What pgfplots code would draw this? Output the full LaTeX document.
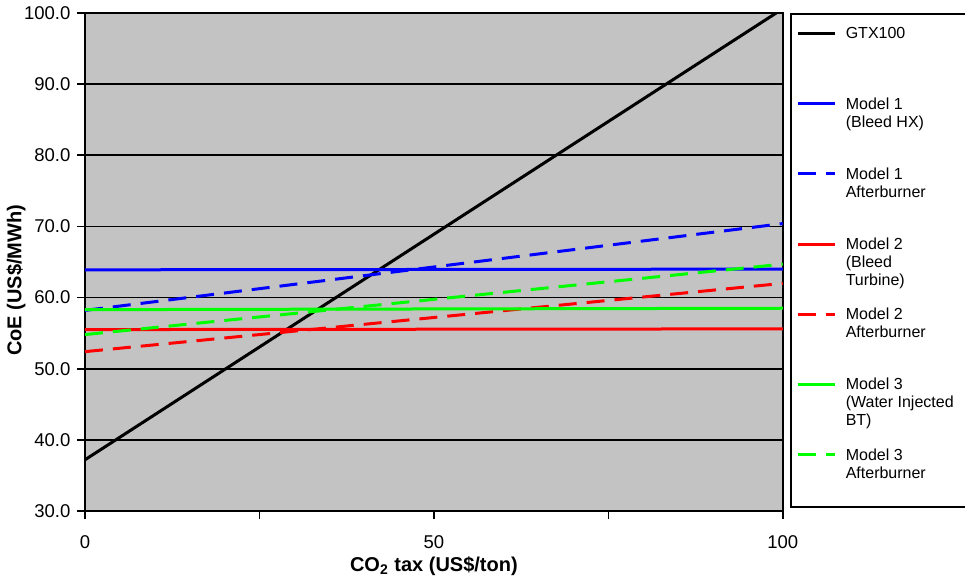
\documentclass[border=0pt]{standalone}
\usepackage{pgfplots}
\pgfplotsset{compat=1.18}
\usepackage{fontspec}
\setmainfont{Liberation Sans}
\definecolor{bg}{RGB}{195,195,195}
\definecolor{mblue}{RGB}{0,0,255}
\definecolor{mred}{RGB}{255,0,0}
\definecolor{mgreen}{RGB}{0,255,0}
\newcommand{\lent}[1]{\parbox[t]{56pt}{#1}}
\begin{document}
\begin{tikzpicture}
\begin{axis}[
  at={(0,0)}, anchor=south west,
  scale only axis, width=348.9pt, height=249pt,
  xmin=0, xmax=100, ymin=30, ymax=100,
  axis background/.style={fill=bg},
  axis line style={black, line width=0.8pt},
  xtick={0,25,50,75,100}, xticklabels={0,,50,,100},
  ytick={30,40,...,100},
  /pgf/number format/assume math mode=true,
  yticklabel style={/pgf/number format/fixed, /pgf/number format/fixed zerofill, /pgf/number format/precision=1},
  tick align=outside, xtick pos=bottom, ytick pos=left,
  major tick length=3.75pt,
  xticklabel shift=5pt,
  tick style={black, line width=0.8pt},
  ymajorgrids, major grid style={black, line width=0.8pt},
  tick label style={font=\fontsize{9.25}{10}\selectfont},
  label style={font=\bfseries\fontsize{10}{11}\selectfont},
  xlabel={CO\textsubscript{2} tax (US\$/ton)},
  xlabel style={at={(axis description cs:0.5,-0.1217)}, anchor=base},
  ylabel={CoE (US\$/MWh)},
  ylabel style={at={(axis description cs:-0.0989,0.463)}, anchor=center},
  legend image code/.code={\draw[#1] (0pt,2.7pt) -- (18.5pt,2.7pt);},
  legend style={at={(1.0103,1)}, anchor=north west, draw=black, line width=0.8pt,
    font=\fontsize{8}{9}\selectfont,
    inner xsep=2.85pt, inner ysep=5.5pt, row sep=10.25pt, column sep=3.65pt,
    cells={anchor=base west},
    nodes={inner sep=1pt, text height=6pt, text depth=16.85pt}},
]
\addplot[black, line width=1.5pt] coordinates {(0,37.2) (100,100.6)};
\addlegendentry{\lent{GTX100}}
\addplot[mblue, line width=1.5pt] coordinates {(0,63.9) (100,64.0)};
\addlegendentry{\lent{Model 1\\(Bleed HX)}}
\addplot[mblue, line width=1.5pt, dash pattern=on 9pt off 5pt] coordinates {(0,58.2) (100,70.4)};
\addlegendentry{\lent{Model 1\\Afterburner}}
\addplot[mred, line width=1.5pt] coordinates {(0,55.5) (100,55.6)};
\addlegendentry{\lent{Model 2\\(Bleed\\Turbine)}}
\addplot[mred, line width=1.5pt, dash pattern=on 9pt off 5pt] coordinates {(0,52.4) (100,62.0)};
\addlegendentry{\lent{Model 2\\Afterburner}}
\addplot[mgreen, line width=1.5pt] coordinates {(0,58.3) (100,58.5)};
\addlegendentry{\lent{Model 3\\(Water~Injected\\BT)}}
\addplot[mgreen, line width=1.5pt, dash pattern=on 9pt off 5pt] coordinates {(0,54.8) (100,64.7)};
\addlegendentry{\lent{Model 3\\Afterburner}}
\end{axis}
\pgfresetboundingbox
\path (-42.5pt,-34pt) rectangle (440pt,255.5pt);
\end{tikzpicture}
\end{document}
